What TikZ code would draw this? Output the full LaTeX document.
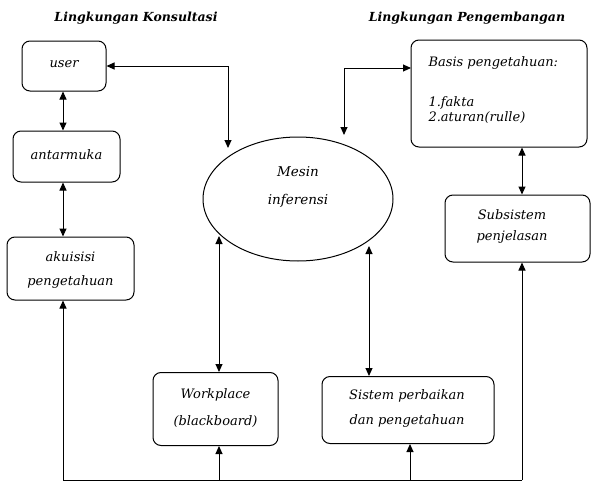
\documentclass[tikz,border=0pt]{standalone}
\usepackage{fontspec}
\setmainfont{DejaVu Serif}
\usetikzlibrary{arrows.meta,shapes.geometric}
\tikzset{
  box/.style={draw, line width=1pt, rounded corners=8pt, align=center, inner sep=2pt,
    font=\itshape\fontsize{13}{24}\selectfont},
  txt/.style={align=center, inner sep=1pt, font=\itshape\fontsize{13}{24}\selectfont},
  ttl/.style={font=\bfseries\itshape\fontsize{12.5}{15}\selectfont},
  ln/.style={line width=1pt},
  tip/.style={ln, -{Triangle[length=8pt,width=7pt]}},
  dbl/.style={ln, {Triangle[length=8pt,width=7pt]}-{Triangle[length=8pt,width=7pt]}}
}
\begin{document}
\begin{tikzpicture}[x=1pt,y=-1pt]
\useasboundingbox (0,0) rectangle (592,482);
\node[ttl] (t1) at (136,18) {Lingkungan Konsultasi};
\node[ttl] (t2) at (467,18) {Lingkungan Pengembangan};
\node[box, minimum width=84pt, minimum height=50pt] (user) at (64,66) {};
\node[txt] (usert) at (64,64) {user};
\node[box, minimum width=107pt, minimum height=51pt] (antar) at (66.5,156.5) {};
\node[txt] (antart) at (66.5,155) {antarmuka};
\node[box, minimum width=127pt, minimum height=63pt] (akui) at (70.5,268.5) {};
\node[txt] (akuit) at (70.5,270) {akuisisi\\pengetahuan};
\node[box, minimum width=176pt, minimum height=107pt] (basis) at (499,93.5) {};
\node[font=\itshape\fontsize{13}{15}\selectfont, anchor=west] (bt) at (425,63) {Basis pengetahuan:};
\node[font=\itshape\fontsize{13}{15}\selectfont, anchor=west, align=left] (bl) at (425,110) {1.fakta\\2.aturan(rulle)};
\node[box, minimum width=145pt, minimum height=67pt] (subs) at (517.5,228.5) {};
\node[txt, font=\itshape\fontsize{13}{21}\selectfont] (subst) at (512,227) {Subsistem\\penjelasan};
\node[box, minimum width=125pt, minimum height=73pt] (work) at (215.5,409) {};
\node[txt, font=\itshape\fontsize{13}{27}\selectfont] (workt) at (215.5,408) {Workplace\\(blackboard)};
\node[box, minimum width=172pt, minimum height=67pt] (sist) at (408,410) {};
\node[txt, font=\itshape\fontsize{13}{25}\selectfont] (sistt) at (407,409) {Sistem perbaikan\\dan pengetahuan};
\node[draw, line width=1pt, ellipse, minimum width=190pt, minimum height=124pt] (mesin) at (298,199) {};
\node[txt, font=\itshape\fontsize{13.5}{28}\selectfont] (mesint) at (298,187) {Mesin\\inferensi};
% connectors
\coordinate (xl) at (63,0);
\coordinate (xr) at (522,0);
\coordinate (e1) at (228,148);
\coordinate (e2) at (344,135);
\coordinate (bw) at (411,68);
\coordinate (m1) at (219,236);
\coordinate (m2) at (369,246);
\coordinate (b0) at (63,480);
\coordinate (b1) at (219,480);
\coordinate (b2) at (410,480);
\coordinate (b3) at (522,480);
\draw[dbl] (user.south -| xl) -- (antar.north -| xl);
\draw[dbl] (antar.south -| xl) -- (akui.north -| xl);
\draw[dbl] (user.east) -| (e1);
\draw[dbl] (e2) |- (bw);
\draw[dbl] (basis.south -| xr) -- (subs.north -| xr);
\draw[dbl] (m1) -- (work.north -| m1);
\draw[dbl] (m2) -- (sist.north -| m2);
\draw[ln] (b0) -- (b3);
\draw[tip] (b0) -- (akui.south -| b0);
\draw[tip] (b1) -- (work.south -| b1);
\draw[tip] (b2) -- (sist.south -| b2);
\draw[tip] (b3) -- (subs.south -| b3);
\end{tikzpicture}
\end{document}
